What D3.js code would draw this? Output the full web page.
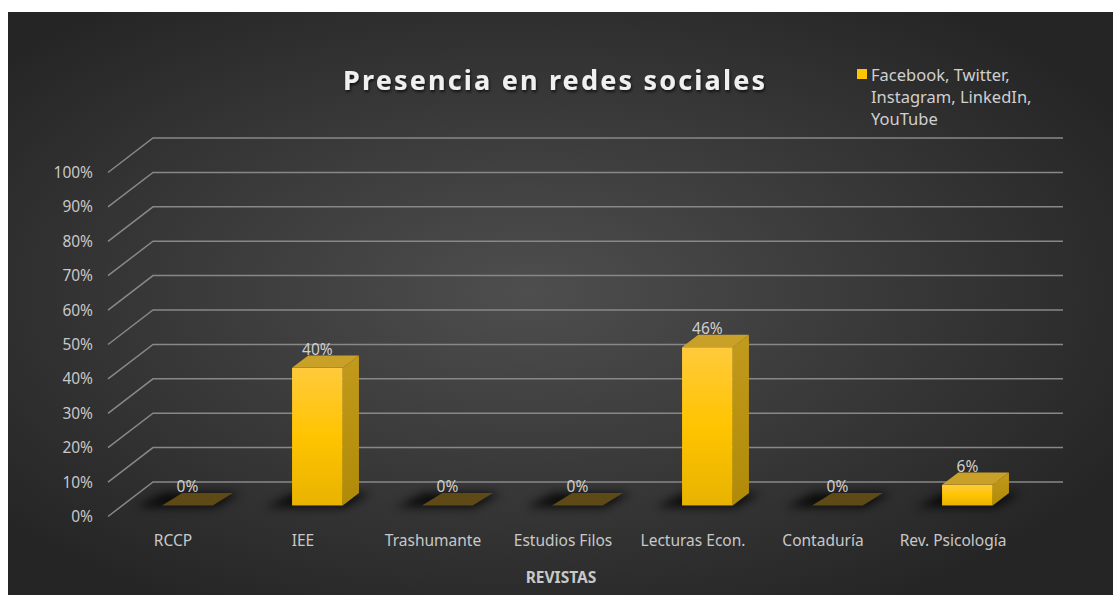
<!DOCTYPE html>
<html>
<head>
<meta charset="utf-8">
<script src="https://cdn.jsdelivr.net/npm/d3@7"></script>
<style>
	body { margin: 0; background: #fff; }
	svg { display: block; font-family: "Noto Sans", "Open Sans", sans-serif; }
</style>
</head>
<body>
<svg></svg>
<script>
var WIDTH = 1113;
var HEIGHT = 595;

// chart data
var categories = ['RCCP', 'IEE', 'Trashumante', 'Estudios Filos', 'Lecturas Econ.', 'Contaduría', 'Rev. Psicología'];
var values = [0, 0.40, 0, 0, 0.46, 0, 0.06];
var valueLabels = ['0%', '40%', '0%', '0%', '46%', '0%', '6%'];
var yTicks = [0, 0.1, 0.2, 0.3, 0.4, 0.5, 0.6, 0.7, 0.8, 0.9, 1];
var seriesName = ['Facebook, Twitter,', 'Instagram, LinkedIn,', 'YouTube'];

var svg = d3.select('svg')
	.attr('width', WIDTH)
	.attr('height', HEIGHT);

var defs = svg.append('defs');

var bg = defs.append('radialGradient').attr('id', 'bg')
	.attr('cx', '47%').attr('cy', '48%').attr('r', '62%');
bg.append('stop').attr('offset', '0%').attr('stop-color', '#4e4e4e');
bg.append('stop').attr('offset', '100%').attr('stop-color', '#252525');

var front = defs.append('linearGradient').attr('id', 'front')
	.attr('x1', 0).attr('y1', 0).attr('x2', 0).attr('y2', 1);
front.append('stop').attr('offset', '0%').attr('stop-color', '#ffca3c');
front.append('stop').attr('offset', '50%').attr('stop-color', '#ffc400');
front.append('stop').attr('offset', '100%').attr('stop-color', '#e8b300');

var side = defs.append('linearGradient').attr('id', 'side')
	.attr('x1', 0).attr('y1', 0).attr('x2', 0).attr('y2', 1);
side.append('stop').attr('offset', '0%').attr('stop-color', '#c29a1c');
side.append('stop').attr('offset', '100%').attr('stop-color', '#b08a08');

defs.append('filter').attr('id', 'blur')
	.attr('x', '-50%').attr('y', '-100%').attr('width', '200%').attr('height', '300%')
	.append('feGaussianBlur').attr('stdDeviation', 5);

var ts = defs.append('filter').attr('id', 'tshadow')
	.attr('x', '-10%').attr('y', '-30%').attr('width', '120%').attr('height', '160%');
ts.append('feDropShadow').attr('dx', 1).attr('dy', 2).attr('stdDeviation', 1.5)
	.attr('flood-color', '#000').attr('flood-opacity', 0.7);

svg.append('rect')
	.attr('x', 8).attr('y', 12)
	.attr('width', WIDTH - 8).attr('height', HEIGHT - 12)
	.attr('fill', 'url(#bg)');

// back wall coordinates and the oblique depth offset
var x = d3.scaleBand().domain(categories).range([153, 1063]).padding(0);
var y = d3.scaleLinear().domain([0, 1]).range([482, 138]);
var DEPTH_X = -45;
var DEPTH_Y = 34.5;

// X along the back wall, v value, z depth (0 = front, 1 = back)
var project = function(X, v, z){
	return [X + (1 - z) * DEPTH_X, y(v) + (1 - z) * DEPTH_Y];
};
var poly = function(pts){
	return 'M' + pts.map(function(p){ return p[0] + ',' + p[1]; }).join('L') + 'Z';
};

// gridlines
var left = x.range()[0];
var right = x.range()[1];
svg.append('g').selectAll('path').data(yTicks).enter()
	.append('path')
	.attr('d', function(t){
		var a = project(left, t, 0);
		var b = project(left, t, 1);
		return 'M' + a[0] + ',' + a[1] + 'L' + b[0] + ',' + b[1] + 'L' + right + ',' + b[1];
	})
	.attr('fill', 'none')
	.attr('stroke', '#888888')
	.attr('stroke-width', 1.5);

// y tick labels
svg.append('g').selectAll('text').data(yTicks).enter()
	.append('text')
	.attr('x', 93)
	.attr('y', function(t){ return project(left, t, 0)[1]; })
	.attr('dy', '0.35em')
	.attr('text-anchor', 'end')
	.attr('font-size', 15.5)
	.attr('fill', '#c8c8c8')
	.text(d3.format('.0%'));

// bars
var Z0 = 0.32;
var Z1 = 0.68;
var barW = x.bandwidth() * 0.39;

var bars = svg.append('g').selectAll('g').data(values).enter()
	.append('g');

bars.each(function(v, i){
	var g = d3.select(this);
	var c = x(categories[i]) + x.bandwidth() / 2;
	var x0 = c - barW / 2;
	var x1 = c + barW / 2;

	// floor shadow
	g.append('path')
		.attr('d', poly([project(x0 - 24, 0, Z0 - 0.05), project(x1 + 4, 0, Z0 - 0.05), project(x1 + 12, 0, Z1), project(x0 - 14, 0, Z1)]))
		.attr('fill', '#000')
		.attr('opacity', 0.8)
		.attr('filter', 'url(#blur)');

	if(v === 0){
		g.append('path')
			.attr('d', poly([project(x0, 0, Z0), project(x1, 0, Z0), project(x1 + 4, 0, Z1), project(x0 + 4, 0, Z1)]))
			.attr('fill', '#5e4a17');
		return;
	}
	var ft = project(x0, v, Z0);
	var fb = project(x1, 0, Z0);
	g.append('rect')
		.attr('x', ft[0]).attr('y', ft[1])
		.attr('width', fb[0] - ft[0]).attr('height', fb[1] - ft[1])
		.attr('fill', 'url(#front)');
	g.append('path')
		.attr('d', poly([project(x1, 0, Z0), project(x1, v, Z0), project(x1, v, Z1), project(x1, 0, Z1)]))
		.attr('fill', 'url(#side)');
	g.append('path')
		.attr('d', poly([project(x0, v, Z0), project(x1, v, Z0), project(x1, v, Z1), project(x0, v, Z1)]))
		.attr('fill', '#c9a128');
});

// data labels
svg.append('g').selectAll('text').data(values).enter()
	.append('text')
	.attr('x', function(v, i){ return project(x(categories[i]) + x.bandwidth() / 2, v, Z0)[0]; })
	.attr('y', function(v, i){ return project(0, v, Z0)[1] - 13; })
	.attr('text-anchor', 'middle')
	.attr('font-size', 15.5)
	.attr('fill', '#d0d0d0')
	.text(function(v, i){ return valueLabels[i]; });

// category labels on the front edge
svg.append('g').selectAll('text').data(categories).enter()
	.append('text')
	.attr('x', function(d){ return x(d) + x.bandwidth() / 2 + DEPTH_X; })
	.attr('y', 546)
	.attr('text-anchor', 'middle')
	.attr('font-size', 15.5)
	.attr('fill', '#c8c8c8')
	.text(function(d){ return d; });

// axis title
svg.append('text')
	.attr('x', (left + right) / 2 + DEPTH_X - 2)
	.attr('y', 583)
	.attr('text-anchor', 'middle')
	.attr('font-size', 15.5)
	.attr('font-weight', 'bold')
	.attr('fill', '#c8c8c8')
	.text('REVISTAS');

// title
svg.append('text')
	.attr('x', 343)
	.attr('y', 90)
	.attr('textLength', 422)
	.attr('lengthAdjust', 'spacing')
	.attr('font-size', 27)
	.attr('font-weight', 'bold')
	.attr('fill', '#f0f0f0')
	.attr('filter', 'url(#tshadow)')
	.text('Presencia en redes sociales');

// legend
var legend = svg.append('g').attr('transform', 'translate(857,69)');
legend.append('rect')
	.attr('width', 10).attr('height', 10)
	.attr('fill', '#ffc400');
legend.selectAll('text').data(seriesName).enter()
	.append('text')
	.attr('x', 14)
	.attr('y', function(d, i){ return 6 + i * 22; })
	.attr('dy', '0.35em')
	.attr('font-size', 16.5)
	.attr('fill', '#d0d0d0')
	.text(function(d){ return d; });
</script>
</body>
</html>
